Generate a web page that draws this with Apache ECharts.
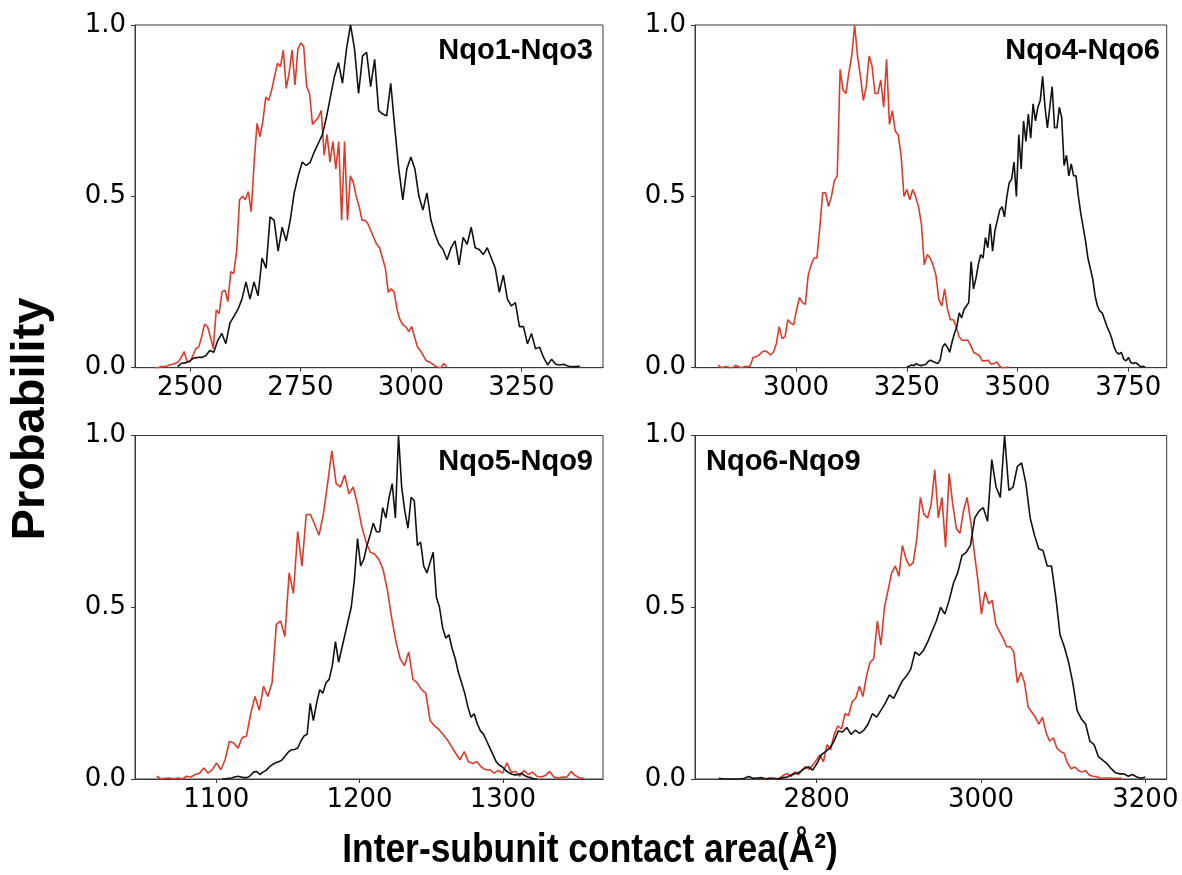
<!DOCTYPE html>
<html>
<head>
<meta charset="utf-8">
<script src="https://cdn.jsdelivr.net/npm/echarts@6/dist/echarts.min.js"></script>
<style>
  html, body { margin: 0; padding: 0; background: #ffffff; }
  #chart { width: 1182px; height: 875px; }
</style>
</head>
<body>
<div id="chart"></div>
<script>
// Normalised histograms of inter-subunit contact area, one panel per subunit pair.
// Each series: first bin centre, bin width, and the normalised counts.

const panelTitles = ['Nqo1-Nqo3', 'Nqo4-Nqo6', 'Nqo5-Nqo9', 'Nqo6-Nqo9'];

const xTicks13 = [2500, 2750, 3000, 3250];
const xTicks46 = [3000, 3250, 3500, 3750];
const xTicks59 = [1100, 1200, 1300];
const xTicks69 = [2800, 3000, 3200];
const yTicks = [0, 0.5, 1.0];

// Nqo1-Nqo3
const red13Start = 2420.8, red13Step = 6.6;
const red13 = [0,0,0.003,0.003,0.005,0.008,0.01,0.013,0.017,0.03,
  0.047,0.017,0.017,0.035,0.056,0.06,0.09,0.127,0.12,0.09,
  0.056,0.168,0.158,0.222,0.226,0.193,0.28,0.275,0.34,0.49,
  0.5,0.49,0.514,0.455,0.6,0.713,0.674,0.72,0.79,0.78,
  0.81,0.85,0.888,0.878,0.927,0.815,0.86,0.927,0.825,0.93,
  0.948,0.937,0.82,0.8,0.71,0.72,0.73,0.75,0.62,0.68,
  0.6,0.66,0.58,0.66,0.43,0.66,0.43,0.56,0.54,0.5,
  0.47,0.43,0.43,0.42,0.4,0.38,0.36,0.35,0.32,0.29,
  0.22,0.23,0.22,0.17,0.14,0.125,0.12,0.105,0.12,0.09,
  0.06,0.05,0.035,0.02,0.017,0.012,0.005,0.001,0,0.012,
  0.004];
const black13Start = 2472, black13Step = 9.1;
const black13 = [0.003,0.013,0.014,0.02,0.028,0.03,0.03,0.035,0.05,0.045,
  0.08,0.1,0.07,0.13,0.15,0.17,0.2,0.25,0.2,0.25,
  0.21,0.32,0.29,0.44,0.43,0.34,0.41,0.37,0.43,0.51,
  0.56,0.6,0.59,0.6,0.63,0.655,0.68,0.73,0.79,0.85,
  0.89,0.83,0.93,1.0,0.93,0.8,0.91,0.92,0.82,0.9,
  0.75,0.74,0.735,0.83,0.7,0.58,0.49,0.58,0.615,0.58,
  0.5,0.46,0.51,0.43,0.39,0.36,0.345,0.315,0.35,0.37,
  0.3,0.38,0.36,0.41,0.35,0.345,0.33,0.35,0.32,0.29,
  0.22,0.27,0.2,0.18,0.19,0.12,0.12,0.07,0.1,0.055,
  0.06,0.03,0.008,0.025,0.01,0.008,0.01,0.005,0.003,0.003,
  0.005];

// Nqo4-Nqo6
const red46Start = 2824.5, red46Step = 6.55;
const red46 = [0.008,0,0.002,0.003,0,0,0.007,0.003,0,0.003,
  0.003,0.005,0.03,0.032,0.036,0.045,0.05,0.045,0.037,0.045,
  0.07,0.12,0.085,0.09,0.14,0.13,0.125,0.17,0.205,0.19,
  0.185,0.27,0.3,0.32,0.32,0.41,0.51,0.51,0.47,0.5,
  0.545,0.56,0.87,0.81,0.8,0.86,0.91,1.0,0.91,0.85,
  0.78,0.82,0.91,0.88,0.8,0.8,0.84,0.76,0.9,0.71,
  0.75,0.69,0.68,0.62,0.5,0.52,0.49,0.52,0.5,0.47,
  0.42,0.3,0.33,0.32,0.3,0.27,0.2,0.18,0.23,0.17,
  0.14,0.14,0.12,0.09,0.08,0.08,0.08,0.065,0.045,0.04,
  0.035,0.02,0.02,0.022,0.01,0.012,0.017,0.004,0,0,
  0.003];
const black46Start = 3250, black46Step = 5.38;
const black46 = [0.003,0.004,0.008,0.006,0.012,0.008,0.006,0.008,0.01,0.018,
  0.022,0.018,0.015,0.012,0.022,0.06,0.07,0.06,0.045,0.075,
  0.1,0.12,0.16,0.145,0.17,0.18,0.19,0.31,0.23,0.26,
  0.3,0.33,0.32,0.38,0.35,0.42,0.34,0.4,0.43,0.46,
  0.47,0.44,0.5,0.54,0.55,0.6,0.5,0.68,0.58,0.72,
  0.66,0.74,0.67,0.77,0.72,0.76,0.78,0.85,0.76,0.7,
  0.76,0.82,0.7,0.7,0.76,0.73,0.59,0.62,0.56,0.595,
  0.56,0.56,0.5,0.45,0.41,0.37,0.32,0.29,0.26,0.21,
  0.18,0.165,0.16,0.14,0.12,0.105,0.085,0.06,0.045,0.04,
  0.045,0.025,0.02,0.03,0.015,0.012,0.015,0.01,0.003,0.004,
  0.002];

// Nqo5-Nqo9
const red59Start = 1058.5, red59Step = 2.98;
const red59 = [0.008,0,0.002,0.003,0,0.003,0,0.008,0.006,0.013,
  0.017,0.032,0.017,0.027,0.047,0.027,0.056,0.11,0.105,0.09,
  0.12,0.125,0.19,0.24,0.2,0.27,0.24,0.28,0.45,0.46,
  0.415,0.6,0.54,0.72,0.62,0.77,0.77,0.74,0.71,0.77,
  0.86,0.955,0.86,0.85,0.885,0.83,0.85,0.8,0.735,0.69,
  0.66,0.655,0.64,0.61,0.55,0.47,0.4,0.35,0.33,0.37,
  0.29,0.28,0.26,0.25,0.17,0.155,0.145,0.13,0.115,0.095,
  0.075,0.056,0.08,0.05,0.045,0.05,0.035,0.027,0.027,0.017,
  0.025,0.017,0.047,0.02,0.022,0.008,0.025,0.013,0.02,0.008,
  0.006,0.01,0.022,0.006,0.003,0.006,0.005,0.022,0.01,0.003,
  0.003];
const black59Start = 1104, black59Step = 2.2;
const black59 = [0,0,0.002,0.003,0.006,0.008,0.006,0.004,0.004,0.01,
  0.02,0.022,0.013,0.02,0.025,0.035,0.042,0.047,0.05,0.055,
  0.066,0.078,0.085,0.086,0.09,0.11,0.125,0.13,0.22,0.17,
  0.22,0.26,0.25,0.28,0.29,0.33,0.4,0.34,0.38,0.42,
  0.46,0.5,0.58,0.7,0.62,0.64,0.68,0.71,0.745,0.72,
  0.72,0.79,0.76,0.82,0.86,0.76,1.0,0.85,0.78,0.73,
  0.82,0.81,0.68,0.69,0.62,0.6,0.63,0.66,0.53,0.5,
  0.44,0.41,0.42,0.38,0.35,0.31,0.28,0.25,0.21,0.18,
  0.19,0.16,0.14,0.13,0.11,0.09,0.07,0.05,0.04,0.035,
  0.025,0.018,0.014,0.012,0.013,0.017,0.01,0.006,0.004,0,
  0];

// Nqo6-Nqo9
const red69Start = 2734, red69Step = 4.37;
const red69 = [0,0.001,0.002,0,0,0.004,0.012,0.016,0.007,0.021,
  0.012,0.026,0.036,0.028,0.04,0.055,0.07,0.05,0.1,0.085,
  0.13,0.155,0.145,0.19,0.185,0.225,0.235,0.27,0.24,0.3,
  0.34,0.35,0.46,0.39,0.5,0.55,0.6,0.62,0.59,0.68,
  0.64,0.62,0.63,0.7,0.82,0.77,0.76,0.8,0.9,0.76,
  0.82,0.675,0.89,0.8,0.73,0.715,0.78,0.82,0.75,0.66,
  0.58,0.48,0.545,0.51,0.52,0.45,0.43,0.41,0.385,0.385,
  0.37,0.28,0.31,0.28,0.21,0.195,0.18,0.16,0.18,0.135,
  0.11,0.12,0.09,0.08,0.075,0.045,0.03,0.035,0.025,0.02,
  0.025,0.012,0.008,0.007,0.002,0.002,0.003,0.003,0.002,0.002,
  0.002];
const black69Start = 2681, black69Step = 5.19;
const black69 = [0.002,0,0,0,0,0,0.002,0.007,0.002,0.003,
  0.004,0,0.002,0.002,0,0.004,0.006,0.012,0.016,0.02,
  0.03,0.036,0.026,0.045,0.07,0.08,0.09,0.11,0.14,0.137,
  0.15,0.13,0.142,0.133,0.142,0.16,0.19,0.18,0.2,0.22,
  0.245,0.235,0.26,0.285,0.3,0.32,0.37,0.36,0.375,0.4,
  0.43,0.46,0.5,0.48,0.52,0.57,0.6,0.65,0.66,0.68,
  0.76,0.78,0.79,0.75,0.93,0.85,0.82,1.0,0.84,0.85,
  0.91,0.92,0.86,0.76,0.71,0.67,0.665,0.62,0.62,0.53,
  0.42,0.385,0.34,0.28,0.2,0.175,0.16,0.11,0.1,0.065,
  0.055,0.045,0.03,0.018,0.015,0.015,0.008,0.013,0.006,0.002,
  0.006];

const RED = '#dc3b2b';
const BLACK = '#111111';
const FRAME = '#3a3a3a';
const TICK_FONT = '"DejaVu Sans", sans-serif';
const LABEL_FONT = '"Liberation Sans", Arial, sans-serif';

function binPairs(start, step, values) {
  return values.map((v, i) => [start + i * step, v]);
}

// Panel geometry in pixels, plus axis extents.
const panels = [
  { left: 135, top: 25,  width: 468,   height: 342.7, min: 2375.6, max: 3434.6, ticks: xTicks13,
    red: binPairs(red13Start, red13Step, red13), black: binPairs(black13Start, black13Step, black13) },
  { left: 695, top: 25,  width: 471.7, height: 342.7, min: 2772,   max: 3836.7, ticks: xTicks46,
    red: binPairs(red46Start, red46Step, red46), black: binPairs(black46Start, black46Step, black46) },
  { left: 135, top: 435.5, width: 468,   height: 343.5, min: 1043.3, max: 1369.9, ticks: xTicks59,
    red: binPairs(red59Start, red59Step, red59), black: binPairs(black59Start, black59Step, black59) },
  { left: 695, top: 435.5, width: 471.7, height: 343.5, min: 2652,   max: 3226,   ticks: xTicks69,
    red: binPairs(red69Start, red69Step, red69), black: binPairs(black69Start, black69Step, black69) }
];

const grids = [], xAxes = [], yAxes = [], series = [];
panels.forEach((p, k) => {
  grids.push({
    left: p.left, top: p.top, width: p.width, height: p.height,
    show: true, borderColor: FRAME, borderWidth: 1, backgroundColor: 'transparent'
  });
  xAxes.push({
    type: 'value', gridIndex: k, min: p.min, max: p.max,
    splitLine: { show: false },
    axisLine: { show: true, onZero: false, lineStyle: { color: FRAME, width: 1 } },
    axisTick: { show: true, inside: false, length: 4, customValues: p.ticks, lineStyle: { color: FRAME, width: 1 } },
    axisLabel: { customValues: p.ticks, fontFamily: TICK_FONT, fontSize: 26, color: '#000', margin: 8,
      formatter: v => String(Math.round(v)) }
  });
  yAxes.push({
    type: 'value', gridIndex: k, min: 0, max: 1, interval: 0.5,
    splitLine: { show: false },
    axisLine: { show: true, onZero: false, lineStyle: { color: FRAME, width: 1 } },
    axisTick: { show: true, inside: false, length: 4, customValues: yTicks, lineStyle: { color: FRAME, width: 1 } },
    axisLabel: { customValues: yTicks, fontFamily: TICK_FONT, fontSize: 26, color: '#000', margin: 9,
      formatter: v => v.toFixed(1) }
  });
  series.push({
    type: 'line', xAxisIndex: k, yAxisIndex: k, data: p.red, showSymbol: false, symbol: 'none',
    lineStyle: { color: RED, width: 1.6 }, itemStyle: { color: RED }, z: 2, silent: true
  });
  series.push({
    type: 'line', xAxisIndex: k, yAxisIndex: k, data: p.black, showSymbol: false, symbol: 'none',
    lineStyle: { color: BLACK, width: 1.6 }, itemStyle: { color: BLACK }, z: 3, silent: true
  });
});

function panelTitle(text, x, y, align) {
  return {
    type: 'text', x: x, y: y, z: 10,
    style: {
      text: text, font: 'bold 29px ' + LABEL_FONT, fill: '#000',
      align: align, verticalAlign: 'middle', textAlign: align, textVerticalAlign: 'middle'
    }
  };
}

const graphics = [
  panelTitle(panelTitles[0], 593, 51, 'right'),
  panelTitle(panelTitles[1], 1160, 51, 'right'),
  panelTitle(panelTitles[2], 593, 462, 'right'),
  panelTitle(panelTitles[3], 706, 462, 'left'),
  {
    type: 'text', x: 31, y: 419, rotation: Math.PI / 2, z: 10,
    style: {
      text: 'Probability', font: 'bold 47px ' + LABEL_FONT, fill: '#000',
      align: 'center', verticalAlign: 'middle', textAlign: 'center', textVerticalAlign: 'middle'
    }
  },
  {
    type: 'text', x: 590, y: 851, scaleX: 0.885, z: 10,
    style: {
      text: 'Inter-subunit contact area(Å²)', font: 'bold 40px ' + LABEL_FONT, fill: '#000',
      align: 'center', verticalAlign: 'middle', textAlign: 'center', textVerticalAlign: 'middle'
    }
  }
];

const chart = echarts.init(document.getElementById('chart'), null, { renderer: 'canvas' });
chart.setOption({
  backgroundColor: '#ffffff',
  animation: false,
  grid: grids,
  xAxis: xAxes,
  yAxis: yAxes,
  series: series,
  graphic: graphics
});
</script>
</body>
</html>
